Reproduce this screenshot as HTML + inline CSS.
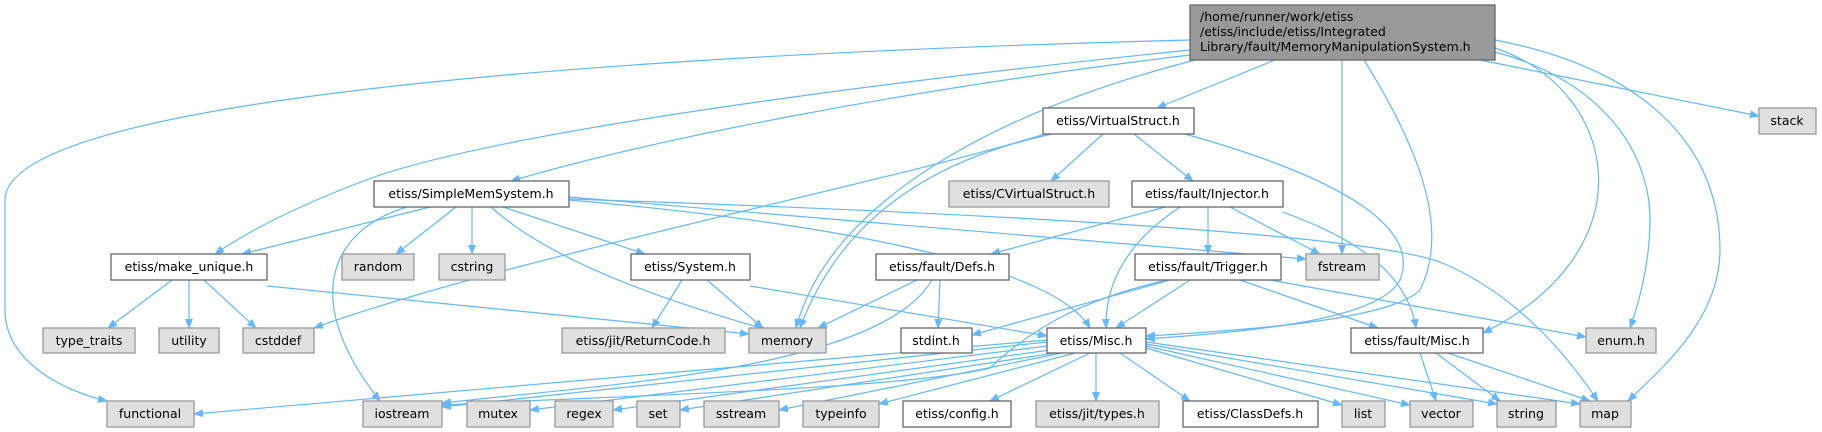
<!DOCTYPE html>
<html><head><meta charset="utf-8"><style>
html,body{margin:0;padding:0;background:#fff;}
svg{display:block;}
text{font-family:"DejaVu Sans","Liberation Sans",sans-serif;font-size:12.5px;fill:#000;}
.w{fill:#fff;stroke:#666;stroke-width:1.3}
.g{fill:#e0e0e0;stroke:#999;stroke-width:1.3}
.r{fill:#999;stroke:#666;stroke-width:1.3}
path.e{fill:none;stroke:#63b8ff;stroke-width:1.2;marker-end:url(#a)}
</style></head><body>
<svg width="1822" height="432" viewBox="0 0 1822 432" xmlns="http://www.w3.org/2000/svg">
<defs><marker id="a" markerWidth="10" markerHeight="8" refX="9" refY="4" orient="auto" markerUnits="userSpaceOnUse"><path d="M0,0 L10,4 L0,8 z" fill="#63b8ff"/></marker></defs>
<g>
<path class="e" d="M1190,40 C600,55 5,100 5,200 L5,310 C5,360 60,390 107,401"/>
<path class="e" d="M1190,50 C900,80 500,130 366,180 C300,205 250,230 215,254"/>
<path class="e" d="M1190,55 C900,90 650,140 511,181"/>
<path class="e" d="M1195,60 C1000,110 830,200 796,328"/>
<path class="e" d="M1275,60 L1157,108"/>
<path class="e" d="M1342,60 L1342,254"/>
<path class="e" d="M1364,60 C1420,150 1450,230 1420,290 C1390,320 1250,330 1146,336"/>
<path class="e" d="M1495,48 C1620,90 1650,250 1483,333"/>
<path class="e" d="M1495,52 C1600,80 1650,150 1650,220 C1650,260 1640,300 1630,328"/>
<path class="e" d="M1495,40 C1650,70 1720,150 1720,250 C1720,320 1660,370 1628,401"/>
<path class="e" d="M1480,60 L1759,116"/>
<path class="e" d="M1103,134 L1051,181"/>
<path class="e" d="M1134,134 L1193,181"/>
<path class="e" d="M1185,134 C1350,180 1420,230 1400,280 C1380,320 1250,332 1146,339"/>
<path class="e" d="M1052,134 C930,160 840,220 800,328"/>
<path class="e" d="M1045,134 C900,180 500,260 314,328"/>
<path class="e" d="M430,207 L242,254"/>
<path class="e" d="M456,207 L396,254"/>
<path class="e" d="M472,207 L472,254"/>
<path class="e" d="M503,207 L645,254"/>
<path class="e" d="M491,207 C560,270 700,310 767,330"/>
<path class="e" d="M407,207 C330,230 300,300 380,401"/>
<path class="e" d="M569,200 C800,220 1050,260 1090,328"/>
<path class="e" d="M569,197 L1306,259"/>
<path class="e" d="M569,199 C900,210 1350,230 1440,262 C1520,295 1570,360 1598,401"/>
<path class="e" d="M172,280 L108,328"/>
<path class="e" d="M189,280 L189,328"/>
<path class="e" d="M204,280 L256,328"/>
<path class="e" d="M267,286 L749,334"/>
<path class="e" d="M682,280 L652,328"/>
<path class="e" d="M707,280 L763,328"/>
<path class="e" d="M750,286 L1047,336"/>
<path class="e" d="M917,280 L818,328"/>
<path class="e" d="M940,280 L938,328"/>
<path class="e" d="M932,280 C880,370 600,385 442,403"/>
<path class="e" d="M1165,207 L991,254"/>
<path class="e" d="M1208,207 L1208,254"/>
<path class="e" d="M1230,207 L1320,254"/>
<path class="e" d="M1180,207 C1130,240 1105,280 1106,328"/>
<path class="e" d="M1283,212 C1330,230 1405,260 1416,328"/>
<path class="e" d="M1170,280 L972,335"/>
<path class="e" d="M1190,280 L1116,328"/>
<path class="e" d="M1167,280 C1080,300 1030,330 990,368 C900,390 600,396 442,405"/>
<path class="e" d="M1240,280 L1378,328"/>
<path class="e" d="M1270,280 L1586,337"/>
<path class="e" d="M1420,353 L1436,401"/>
<path class="e" d="M1436,353 L1500,401"/>
<path class="e" d="M1448,353 L1590,401"/>
<path class="e" d="M1047,340 L194,414"/>
<path class="e" d="M1047,342 L442,407"/>
<path class="e" d="M1047,346 L530,410"/>
<path class="e" d="M1050,350 L613,410"/>
<path class="e" d="M1055,353 L680,410"/>
<path class="e" d="M1062,353 L779,410"/>
<path class="e" d="M1075,353 L879,404"/>
<path class="e" d="M1090,353 L990,401"/>
<path class="e" d="M1096,353 L1096,401"/>
<path class="e" d="M1120,353 L1190,401"/>
<path class="e" d="M1146,348 L1342,405"/>
<path class="e" d="M1146,346 L1410,405"/>
<path class="e" d="M1146,344 L1497,404"/>
<path class="e" d="M1146,342 L1580,404"/>
</g>
<g text-anchor="middle">
<rect class="r" x="1190" y="5" width="305" height="55"/>
<text x="1200" y="21" text-anchor="start">/home/runner/work/etiss</text>
<text x="1200" y="36" text-anchor="start">/etiss/include/etiss/Integrated</text>
<text x="1200" y="51" text-anchor="start">Library/fault/MemoryManipulationSystem.h</text>
<rect class="w" x="1043" y="108" width="151" height="26"/><text x="1118" y="125">etiss/VirtualStruct.h</text>
<rect class="g" x="1759" y="108" width="57" height="26"/><text x="1787" y="125">stack</text>
<rect class="w" x="374" y="181" width="195" height="26"/><text x="471" y="198">etiss/SimpleMemSystem.h</text>
<rect class="g" x="949" y="181" width="160" height="26"/><text x="1029" y="198">etiss/CVirtualStruct.h</text>
<rect class="w" x="1132" y="181" width="151" height="26"/><text x="1207" y="198">etiss/fault/Injector.h</text>
<rect class="w" x="111" y="254" width="156" height="26"/><text x="189" y="271">etiss/make_unique.h</text>
<rect class="g" x="342" y="254" width="72" height="26"/><text x="378" y="271">random</text>
<rect class="g" x="439" y="254" width="66" height="26"/><text x="472" y="271">cstring</text>
<rect class="w" x="631" y="254" width="119" height="26"/><text x="690" y="271">etiss/System.h</text>
<rect class="w" x="876" y="254" width="133" height="26"/><text x="942" y="271">etiss/fault/Defs.h</text>
<rect class="w" x="1135" y="254" width="146" height="26"/><text x="1208" y="271">etiss/fault/Trigger.h</text>
<rect class="g" x="1306" y="254" width="73" height="26"/><text x="1342" y="271">fstream</text>
<rect class="g" x="43" y="328" width="92" height="25"/><text x="89" y="345">type_traits</text>
<rect class="g" x="159" y="328" width="60" height="25"/><text x="189" y="345">utility</text>
<rect class="g" x="243" y="328" width="71" height="25"/><text x="278" y="345">cstddef</text>
<rect class="g" x="562" y="328" width="163" height="25"/><text x="643" y="345">etiss/jit/ReturnCode.h</text>
<rect class="g" x="749" y="328" width="77" height="25"/><text x="787" y="345">memory</text>
<rect class="w" x="901" y="328" width="71" height="25"/><text x="936" y="345">stdint.h</text>
<rect class="w" x="1047" y="328" width="99" height="25"/><text x="1096" y="345">etiss/Misc.h</text>
<rect class="w" x="1351" y="328" width="132" height="25"/><text x="1417" y="345">etiss/fault/Misc.h</text>
<rect class="g" x="1586" y="328" width="70" height="25"/><text x="1621" y="345">enum.h</text>
<rect class="g" x="107" y="401" width="87" height="26"/><text x="150" y="418">functional</text>
<rect class="g" x="363" y="401" width="79" height="26"/><text x="402" y="418">iostream</text>
<rect class="g" x="467" y="401" width="63" height="26"/><text x="498" y="418">mutex</text>
<rect class="g" x="555" y="401" width="58" height="26"/><text x="584" y="418">regex</text>
<rect class="g" x="637" y="401" width="43" height="26"/><text x="658" y="418">set</text>
<rect class="g" x="704" y="401" width="75" height="26"/><text x="741" y="418">sstream</text>
<rect class="g" x="803" y="401" width="76" height="26"/><text x="841" y="418">typeinfo</text>
<rect class="w" x="903" y="401" width="108" height="26"/><text x="957" y="418">etiss/config.h</text>
<rect class="g" x="1036" y="401" width="123" height="26"/><text x="1097" y="418">etiss/jit/types.h</text>
<rect class="w" x="1183" y="401" width="135" height="26"/><text x="1250" y="418">etiss/ClassDefs.h</text>
<rect class="g" x="1342" y="401" width="43" height="26"/><text x="1363" y="418">list</text>
<rect class="g" x="1410" y="401" width="63" height="26"/><text x="1441" y="418">vector</text>
<rect class="g" x="1497" y="401" width="59" height="26"/><text x="1526" y="418">string</text>
<rect class="g" x="1580" y="401" width="51" height="26"/><text x="1605" y="418">map</text>
</g>
</svg>
</body></html>
